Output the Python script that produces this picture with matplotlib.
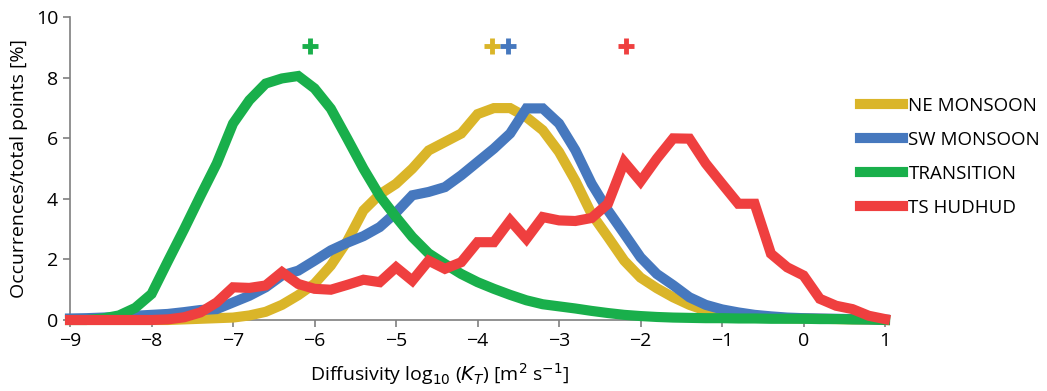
import numpy as np
import matplotlib
matplotlib.use('Agg')
import matplotlib.pyplot as plt

plt.rcParams['font.family'] = ['Open Sans', 'DejaVu Sans']

# bin centres of log10(K_T), 0.2 wide from -9 to 1
logK = np.linspace(-9, 1, 51)

ne_monsoon = [0, 0, 0, 0, 0, 0, 0, 0.02, 0.04, 0.06,
              0.08, 0.15, 0.27, 0.5, 0.82, 1.2, 1.8, 2.6, 3.62, 4.15,
              4.5, 5.0, 5.6, 5.88, 6.16, 6.8, 7.0, 7.0, 6.7, 6.27,
              5.55, 4.6, 3.5, 2.74, 1.96, 1.4, 1.05, 0.75, 0.5, 0.31,
              0.2, 0.14, 0.1, 0.08, 0.06, 0.05, 0.04, 0.03, 0.02, 0.01, 0]
sw_monsoon = [0.05, 0.06, 0.08, 0.1, 0.14, 0.17, 0.2, 0.26, 0.33, 0.36,
              0.58, 0.8, 1.08, 1.47, 1.63, 1.96, 2.3, 2.55, 2.77, 3.07,
              3.55, 4.12, 4.23, 4.39, 4.78, 5.22, 5.66, 6.16, 6.99, 6.99,
              6.49, 5.61, 4.5, 3.62, 2.85, 2.07, 1.52, 1.15, 0.75, 0.5,
              0.35, 0.25, 0.17, 0.12, 0.08, 0.06, 0.05, 0.04, 0.03, 0.02, 0.01]
transition = [0, 0, 0.05, 0.15, 0.4, 0.86, 1.94, 3.0, 4.1, 5.17,
              6.49, 7.26, 7.81, 7.98, 8.06, 7.65, 6.98, 6.0, 5.0, 4.1,
              3.4, 2.74, 2.2, 1.85, 1.52, 1.25, 1.03, 0.83, 0.65, 0.52,
              0.45, 0.38, 0.3, 0.23, 0.17, 0.13, 0.1, 0.08, 0.07, 0.06,
              0.06, 0.05, 0.05, 0.04, 0.04, 0.04, 0.03, 0.03, 0.02, 0.02, 0]
ts_hudhud = [0, 0, 0, 0, 0, 0, 0.02, 0.09, 0.25, 0.58,
             1.08, 1.06, 1.14, 1.58, 1.19, 1.03, 1.0, 1.16, 1.33, 1.25,
             1.74, 1.3, 1.96, 1.69, 1.91, 2.57, 2.57, 3.29, 2.68, 3.4,
             3.29, 3.27, 3.37, 3.84, 5.22, 4.58, 5.33, 6.0, 5.99, 5.17,
             4.5, 3.84, 3.84, 2.19, 1.74, 1.47, 0.7, 0.47, 0.36, 0.14, 0.03]

labels = ['NE MONSOON', 'SW MONSOON', 'TRANSITION', 'TS HUDHUD']
colors = ['#DAB529', '#4678BE', '#19AF4B', '#EF3F3F']
# mean log10(K_T) of each period, shown as crosses at the top
means = [-3.82, -3.63, -6.06, -2.18]
mean_y = 9.05

fig = plt.figure(figsize=(10.47, 3.91), dpi=100)
ax = fig.add_axes([0.0669, 0.1816, 0.7784, 0.7742])

series = [ne_monsoon, sw_monsoon, transition, ts_hudhud]
for vals, lab, col in zip(series, labels, colors):
    ax.plot(logK, vals, color=col, lw=7.3, label=lab, solid_joinstyle='miter',
            clip_on=False, zorder=3)
for m, col in zip(means, colors):
    ax.plot(m, mean_y, marker='+', ms=12, mew=3.5, color=col, zorder=4)

ax.set_xlim(-9, 1)
ax.set_ylim(0, 10)
ax.set_xticks(range(-9, 2))
ax.set_xticklabels([str(t).replace('-', '\u2212') for t in range(-9, 2)])
ax.set_yticks(range(0, 11, 2))
for s in ['top', 'right']:
    ax.spines[s].set_visible(False)
for s in ['left', 'bottom']:
    ax.spines[s].set_color('#7f7f7f')
    ax.spines[s].set_linewidth(1.2)
ax.tick_params(colors='#7f7f7f', labelcolor='black', labelsize=14, length=5, width=1.2)

ax.set_xlabel('Diffusivity log$_{10}$ ($K_T$) [m$^2$ s$^{-1}$]', fontsize=14)
ax.xaxis.set_label_coords(0.453, -0.135)
ax.set_ylabel('Occurrences/total points [%]', fontsize=14, labelpad=6)

fig.legend(loc='upper left', bbox_to_anchor=(0.805, 0.795), frameon=False,
           fontsize=13.5, handlelength=2.3, handletextpad=0.3, labelspacing=0.85)

fig.savefig('out.png', dpi=100)
